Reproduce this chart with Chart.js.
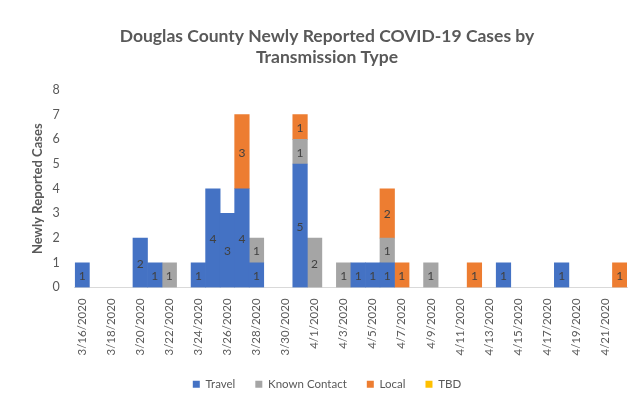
<!DOCTYPE html>
<html lang="en">
  <head>
    <meta charset="UTF-8" />
    <title>Douglas County COVID-19 Cases</title>
    <script src="https://cdn.jsdelivr.net/npm/chart.js"></script>
    <style>
      body { margin: 0; background: #fff; }
    </style>
  </head>
  <body>
    <canvas id="chart" width="637" height="404"></canvas>
    <script>
      // dates 3/16/2020 .. 4/22/2020
      const dates = [
        "3/16/2020", "3/17/2020", "3/18/2020", "3/19/2020", "3/20/2020", "3/21/2020",
        "3/22/2020", "3/23/2020", "3/24/2020", "3/25/2020", "3/26/2020", "3/27/2020",
        "3/28/2020", "3/29/2020", "3/30/2020", "3/31/2020", "4/1/2020", "4/2/2020",
        "4/3/2020", "4/4/2020", "4/5/2020", "4/6/2020", "4/7/2020", "4/8/2020",
        "4/9/2020", "4/10/2020", "4/11/2020", "4/12/2020", "4/13/2020", "4/14/2020",
        "4/15/2020", "4/16/2020", "4/17/2020", "4/18/2020", "4/19/2020", "4/20/2020",
        "4/21/2020", "4/22/2020"
      ];
      const travel = [1,0,0,0,2,1,0,0,1,4,3,4,1,0,0,5,0,0,0,1,1,1,0,0,0,0,0,0,0,1,0,0,0,1,0,0,0,0];
      const knownContact = [0,0,0,0,0,0,1,0,0,0,0,0,1,0,0,1,2,0,1,0,0,1,0,0,1,0,0,0,0,0,0,0,0,0,0,0,0,0];
      const local = [0,0,0,0,0,0,0,0,0,0,0,3,0,0,0,1,0,0,0,0,0,2,1,0,0,0,0,1,0,0,0,0,0,0,0,0,0,1];
      const tbd = [0,0,0,0,0,0,0,0,0,0,0,0,0,0,0,0,0,0,0,0,0,0,0,0,0,0,0,0,0,0,0,0,0,0,0,0,0,0];

      const textColor = "#595959";
      const fontFamily = "Lato, 'Open Sans', sans-serif";

      // zero days draw nothing (avoids hairline slivers)
      const noZero = (arr) => arr.map((v) => (v === 0 ? null : v));

      // value labels in the middle of each segment
      const barLabels = {
        id: "barLabels",
        afterDatasetsDraw(chart) {
          const ctx = chart.ctx;
          ctx.save();
          ctx.font = "12px " + fontFamily;
          ctx.fillStyle = "#404040";
          ctx.textAlign = "center";
          ctx.textBaseline = "middle";
          chart.data.datasets.forEach((ds, i) => {
            const meta = chart.getDatasetMeta(i);
            meta.data.forEach((bar, j) => {
              const v = ds.data[j];
              if (!v) return;
              ctx.fillText(String(v), bar.x, (bar.y + bar.base) / 2 + 1);
            });
          });
          ctx.restore();
        },
      };

      new Chart(document.getElementById("chart"), {
        type: "bar",
        data: {
          labels: dates,
          datasets: [
            { label: "Travel", data: noZero(travel), backgroundColor: "#4472C4" },
            { label: "Known Contact", data: noZero(knownContact), backgroundColor: "#A5A5A5" },
            { label: "Local", data: noZero(local), backgroundColor: "#ED7D31" },
            { label: "TBD", data: noZero(tbd), backgroundColor: "#FFC000" },
          ],
        },
        options: {
          responsive: false,
          animation: false,
          datasets: {
            bar: { categoryPercentage: 1, barPercentage: 1, borderWidth: 0 },
          },
          layout: { padding: { top: 26, left: 27, right: 10, bottom: 4 } },
          plugins: {
            title: {
              display: true,
              text: ["Douglas County Newly Reported COVID-19 Cases by", "Transmission Type"],
              color: textColor,
              font: { family: fontFamily, size: 17.5, weight: "bold", lineHeight: 1.2 },
              padding: { top: 0, bottom: 22 },
            },
            legend: {
              position: "bottom",
              labels: {
                color: textColor,
                font: { family: fontFamily, size: 11.5 },
                boxWidth: 7,
                boxHeight: 7,
                padding: 20,
              },
            },
            tooltip: { enabled: false },
          },
          scales: {
            x: {
              stacked: true,
              grid: { display: false },
              border: { color: "#d9d9d9" },
              ticks: {
                color: textColor,
                font: { family: fontFamily, size: 11.5 },
                autoSkip: false,
                minRotation: 90,
                maxRotation: 90,
                callback: function (val, idx) {
                  return idx % 2 === 0 ? dates[idx] : "";
                },
              },
            },
            y: {
              stacked: true,
              min: 0,
              max: 8,
              grid: { display: false },
              border: { display: false },
              ticks: {
                stepSize: 1,
                color: textColor,
                font: { family: fontFamily, size: 12.5 },
                padding: 7,
              },
              title: {
                display: true,
                text: "Newly Reported Cases",
                color: textColor,
                font: { family: fontFamily, size: 13, weight: "bold" },
                padding: { top: 3, bottom: 0 },
              },
            },
          },
        },
        plugins: [barLabels],
      });
    </script>
  </body>
</html>
